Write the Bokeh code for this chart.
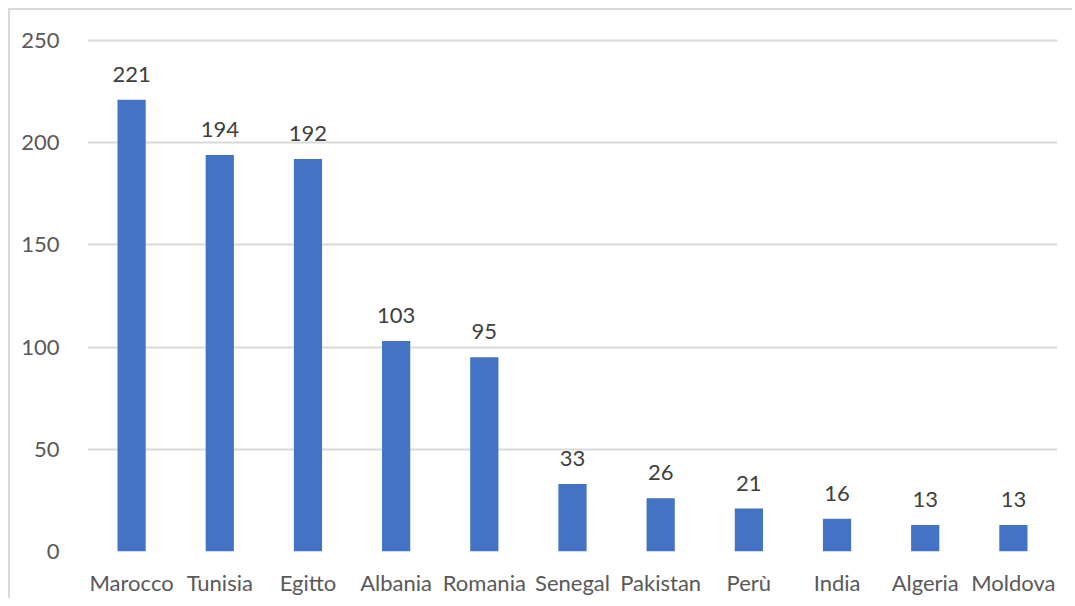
from bokeh.plotting import figure
from bokeh.models import ColumnDataSource, LabelSet, FactorRange, Range1d, FixedTicker
from bokeh.core.properties import value
from bokeh.embed import file_html
from bokeh.resources import INLINE

countries = ["Marocco", "Tunisia", "Egitto", "Albania", "Romania", "Senegal",
             "Pakistan", "Perù", "India", "Algeria", "Moldova"]
values = [221, 194, 192, 103, 95, 33, 26, 21, 16, 13, 13]
y_ticks = [0, 50, 100, 150, 200, 250]

src = ColumnDataSource(dict(x=countries, y=values, lab=[str(v) for v in values]))

FONT = "Lato"

p = figure(x_range=FactorRange(*countries, range_padding=0),
           y_range=Range1d(0, 251),
           width=1064, height=590,
           output_backend="svg", toolbar_location=None,
           min_border_left=77, min_border_right=17,
           min_border_top=28, min_border_bottom=49)
p.styles = {"margin-left": "8px", "margin-top": "8px",
            "border-left": "2px solid #d9d9d9", "border-top": "2px solid #d9d9d9"}

p.vbar(x="x", top="y", width=0.32, source=src, color="#4472C4", line_color=None)

labels = LabelSet(x="x", y="y", text="lab", source=src, text_align="center",
                  text_baseline="bottom", y_offset=18, text_font_size="22px",
                  text_color="#404040", text_font=value(FONT))
p.add_layout(labels)

p.outline_line_color = None
p.background_fill_color = "white"
p.border_fill_color = "white"

p.xgrid.grid_line_color = None
p.ygrid.grid_line_color = "#d9d9d9"
p.ygrid.grid_line_width = 2
p.yaxis.ticker = FixedTicker(ticks=y_ticks)

for ax in (p.xaxis, p.yaxis):
    ax.axis_line_color = None
    ax.major_tick_line_color = None
    ax.minor_tick_line_color = None
    ax.major_label_text_font = FONT
    ax.major_label_text_font_size = "22px"
    ax.major_label_text_color = "#595959"

p.xaxis.major_label_standoff = 11
p.yaxis.major_label_standoff = 22

open("out.html", "w").write(file_html(p, INLINE))
